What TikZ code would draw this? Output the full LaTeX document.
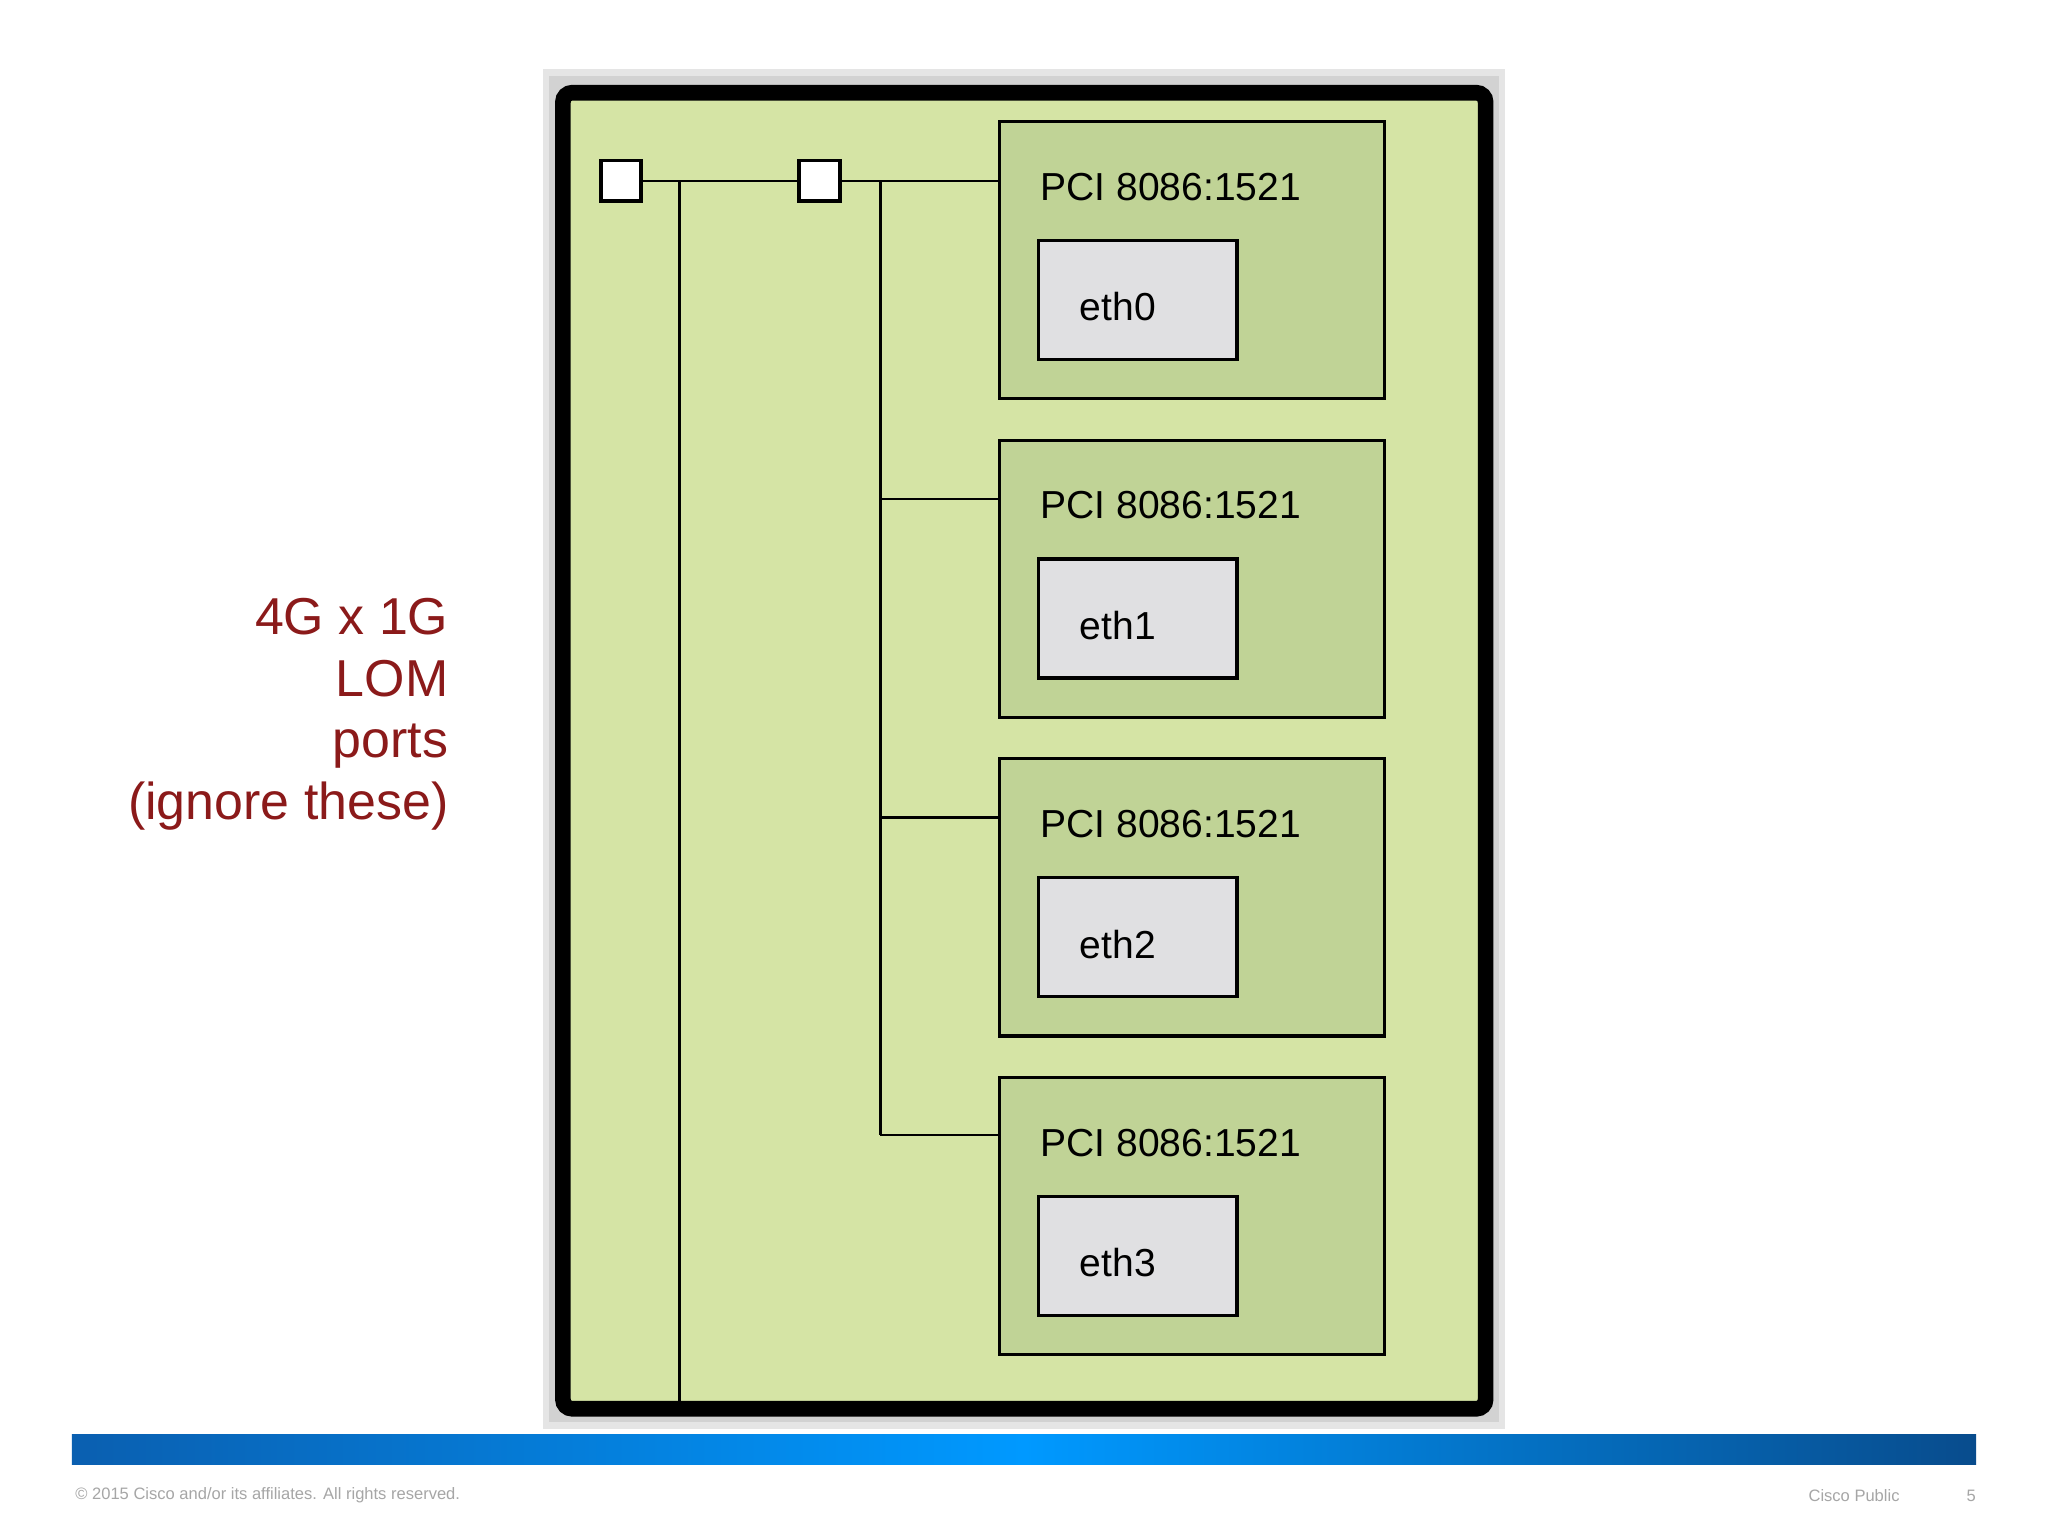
\documentclass[tikz,border=0pt]{standalone}
\usepackage{fontspec}
\setmainfont{Liberation Sans}
\usetikzlibrary{positioning,calc}
\definecolor{boardgreen}{HTML}{D5E4A5}
\definecolor{pcigreen}{HTML}{C0D396}
\definecolor{ethgray}{HTML}{E0E0E2}
\definecolor{lomred}{HTML}{8B1A1A}
\definecolor{ciscoblue}{HTML}{0A5FB0}
\tikzset{
  board/.style={draw=black, line width=3.4pt, rounded corners=2pt, fill=boardgreen, outer sep=0pt},
  pcibox/.style={draw=black, line width=0.7pt, fill=pcigreen, minimum width=2.95cm, minimum height=2.12cm, anchor=north west, outer sep=0pt},
  ethbox/.style={draw=black, line width=0.7pt, fill=ethgray, minimum width=1.52cm, minimum height=0.91cm, anchor=north west, outer sep=0pt},
  pcitext/.style={font=\fontsize{8.5pt}{10pt}\selectfont, anchor=west, inner sep=0pt},
  port/.style={draw=black, line width=0.8pt, fill=white, minimum size=0.31cm, inner sep=0pt, outer sep=0pt},
  wire/.style={line width=0.6pt}
}
\begin{document}
\begin{tikzpicture}[x=0.01cm,y=-0.01cm]
\useasboundingbox (0,0) rectangle (1568,1176);
\fill[white] (0,0) rectangle (1568,1176);
% board with shadow
\fill[gray!20] (416,53) rectangle (1152,1094);
\fill[gray!35] (420,58) rectangle (1148,1089);
\node[board, minimum width=7.06cm, minimum height=10.07cm, anchor=north west] (board) at (431,71) {};
% ports
\node[port] (p1) at (475.5,138.5) {};
\node[port] (p2) at (627.5,138.5) {};
% PCI devices
\foreach \i/\y in {0/93,1/337,2/581,3/825}{
  \node[pcibox] (pci\i) at (765,\y) {};
  \node[pcitext] (lbl\i) at (796,\y+50) {PCI 8086:1521};
  \node[ethbox] (eth\i) at (795,\y+91) {};
  \node[pcitext] (ethl\i) at (826,\y+142) {eth\i};
}
% wiring
\coordinate (j1) at (520,138);
\coordinate (j2) at (674,138);
\draw[wire] (p1.east) -- (p2.west);
\draw[wire] (p2.east) -- (p2.east -| pci0.west);
\draw[wire] (j1) -- (j1 |- board.south);
\draw[wire] (j2) -- (674,869);
\foreach \i/\y in {1/382,2/626,3/869}
  \draw[wire] (674,\y) -- (pci\i.west |- 674,\y);
% LOM label
\node[align=right, text=lomred, font=\fontsize{11.3pt}{13.4pt}\selectfont, anchor=east, inner sep=0pt] (lom) at (344,547) {4G x 1G\\LOM\\ports\\(ignore these)};
% footer
\shade[left color=ciscoblue, right color=ciscoblue!80!black, middle color=cyan!60!blue] (55,1098) rectangle (1513,1121);
\node[anchor=west, text=gray!70, font=\fontsize{3.6pt}{5pt}\selectfont, inner sep=0pt] (copy) at (57,1145) {© 2015 Cisco and/or its affiliates. All rights reserved.};
\node[anchor=west, text=gray!70, font=\fontsize{3.6pt}{5pt}\selectfont, inner sep=0pt] (pub) at (1384,1145) {Cisco Public};
\node[anchor=west, text=gray!70, font=\fontsize{3.6pt}{5pt}\selectfont, inner sep=0pt] (pg) at (1505,1145) {5};
\end{tikzpicture}
\end{document}
